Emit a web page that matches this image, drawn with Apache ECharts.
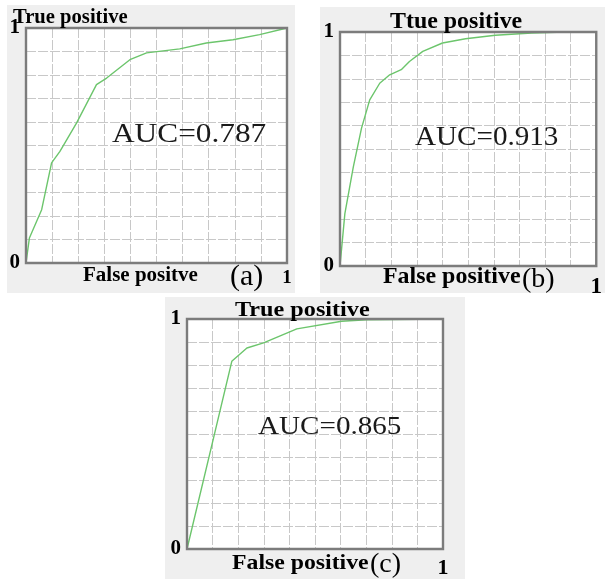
<!DOCTYPE html>
<html>
<head>
<meta charset="utf-8">
<script src="https://cdn.jsdelivr.net/npm/echarts@6/dist/echarts.min.js"></script>
<style>
  html, body { margin: 0; padding: 0; background: #fff; }
  #main { width: 605px; height: 579px; }
</style>
</head>
<body>
<div id="main"></div>
<script>
// ROC curves: false positive rate / true positive rate
var fprA = [0, 0.013, 0.06, 0.098, 0.13, 0.194, 0.27, 0.309, 0.398, 0.462, 0.589, 0.691, 0.793, 0.895, 1];
var tprA = [0, 0.106, 0.227, 0.426, 0.475, 0.596, 0.759, 0.787, 0.865, 0.894, 0.911, 0.936, 0.95, 0.972, 1];

var fprB = [0, 0.019, 0.052, 0.084, 0.116, 0.155, 0.194, 0.239, 0.271, 0.323, 0.4, 0.49, 0.606, 0.748, 0.877, 1];
var tprB = [0, 0.224, 0.424, 0.589, 0.71, 0.781, 0.817, 0.839, 0.874, 0.917, 0.953, 0.971, 0.986, 0.996, 1, 1];

var fprC = [0, 0.104, 0.175, 0.234, 0.299, 0.429, 0.604, 0.701, 1];
var tprC = [0, 0.484, 0.816, 0.874, 0.896, 0.957, 0.99, 0.997, 1];

var aucLabels = ['AUC=0.787', 'AUC=0.913', 'AUC=0.865'];
var yTitles = ['True positive', 'Ttue positive', 'True positive'];
var xTitles = ['False positve', 'False positive', 'False positive'];
var tags = ['(a)', '(b)', '(c)'];

function pairs(xs, ys) {
  return xs.map(function (x, i) { return [x, ys[i]]; });
}

var chart = echarts.init(document.getElementById('main'));

var serif = '"Liberation Serif", "Times New Roman", serif';

// plot boxes
var grids = [
  { left: 26, top: 28, width: 261, height: 235 },
  { left: 340, top: 32, width: 258, height: 234 },
  { left: 187, top: 319, width: 256, height: 231 }
];
var xMargins = [6, 10, 8];
var xOneSize = [19, 23, 22];

var xAxes = [], yAxes = [], gridOpts = [];
grids.forEach(function (g, i) {
  gridOpts.push({
    left: g.left, top: g.top, width: g.width, height: g.height,
    show: true, backgroundColor: '#fff', borderWidth: 0
  });
  xAxes.push({
    type: 'value', gridIndex: i, min: 0, max: 1, interval: 0.1,
    axisLine: { show: false }, axisTick: { show: false },
    splitLine: { show: true, lineStyle: { color: '#c8c8c8', type: [10, 2], width: 1 } },
    axisLabel: {
      margin: xMargins[i], fontFamily: serif, fontWeight: 'bold', fontSize: xOneSize[i], color: '#000',
      showMinLabel: true, showMaxLabel: true,
      formatter: function (v) { return v === 1 ? '1' : ''; }
    }
  });
  yAxes.push({
    type: 'value', gridIndex: i, min: 0, max: 1, interval: 0.1,
    axisLine: { show: false }, axisTick: { show: false },
    splitLine: { show: true, lineStyle: { color: '#c8c8c8', type: [10, 2], width: 1 } },
    axisLabel: {
      margin: 6, fontFamily: serif, fontWeight: 'bold', fontSize: 21, color: '#000',
      showMinLabel: true, showMaxLabel: true,
      formatter: function (v) { return v === 0 ? '0' : (v === 1 ? '1' : ''); }
    }
  });
});

var curves = [pairs(fprA, tprA), pairs(fprB, tprB), pairs(fprC, tprC)];
var series = curves.map(function (d, i) {
  return {
    type: 'line', xAxisIndex: i, yAxisIndex: i, data: d,
    showSymbol: false, smooth: false, z: 3,
    lineStyle: { color: '#6cc56c', width: 1.4 }
  };
});

chart.setOption({
  animation: false,
  backgroundColor: '#fff',
  grid: gridOpts,
  xAxis: xAxes,
  yAxis: yAxes,
  series: series
});

// labels placed around each panel: [x, y, fontSize, scaleX]
var txt = [
  { yt: [13, 18, 20, 1.03], xt: [83, 276, 20, 1.05], tag: [230, 277, 30], auc: [112, 135, 27, 1.16] },
  { yt: [390, 22, 23, 1.04], xt: [383, 277, 23, 1.04], tag: [522, 280, 28], auc: [415, 138, 28, 1.04] },
  { yt: [235, 310, 22, 1.1], xt: [232, 563, 22, 1.08], tag: [370, 565, 28], auc: [258, 427, 26, 1.12] }
];

var graphics = [
  { type: 'rect', shape: { x: 7, y: 5, width: 288, height: 288 }, style: { fill: '#efefef' }, z: -10 },
  { type: 'rect', shape: { x: 320, y: 7, width: 285, height: 286 }, style: { fill: '#efefef' }, z: -10 },
  { type: 'rect', shape: { x: 165, y: 297, width: 300, height: 282 }, style: { fill: '#efefef' }, z: -10 }
];

// frame of each plot, from the axes' own scale
grids.forEach(function (g, i) {
  var p0 = chart.convertToPixel({ gridIndex: i }, [0, 1]);
  var p1 = chart.convertToPixel({ gridIndex: i }, [1, 0]);
  graphics.push({
    type: 'rect', z: 50,
    shape: { x: p0[0], y: p0[1], width: p1[0] - p0[0], height: p1[1] - p0[1] },
    style: { fill: null, stroke: '#7c7c7c', lineWidth: 2.4 }
  });
});

txt.forEach(function (t, i) {
  graphics.push({
    type: 'text', x: t.yt[0], y: t.yt[1], z: 100, scaleX: t.yt[3],
    style: { text: yTitles[i], font: 'bold ' + t.yt[2] + 'px ' + serif, fill: '#000', textVerticalAlign: 'middle' }
  });
  graphics.push({
    type: 'text', x: t.xt[0], y: t.xt[1], z: 100, scaleX: t.xt[3],
    style: { text: xTitles[i], font: 'bold ' + t.xt[2] + 'px ' + serif, fill: '#000', textVerticalAlign: 'middle' }
  });
  graphics.push({
    type: 'text', x: t.tag[0], y: t.tag[1], z: 100,
    style: { text: tags[i], font: t.tag[2] + 'px ' + serif, fill: '#000', textVerticalAlign: 'middle' }
  });
  graphics.push({
    type: 'text', x: t.auc[0], y: t.auc[1], z: 100, scaleX: t.auc[3],
    style: { text: aucLabels[i], font: t.auc[2] + 'px ' + serif, fill: '#1a1a1a', textVerticalAlign: 'middle' }
  });
});

chart.setOption({ graphic: graphics });
</script>
</body>
</html>
